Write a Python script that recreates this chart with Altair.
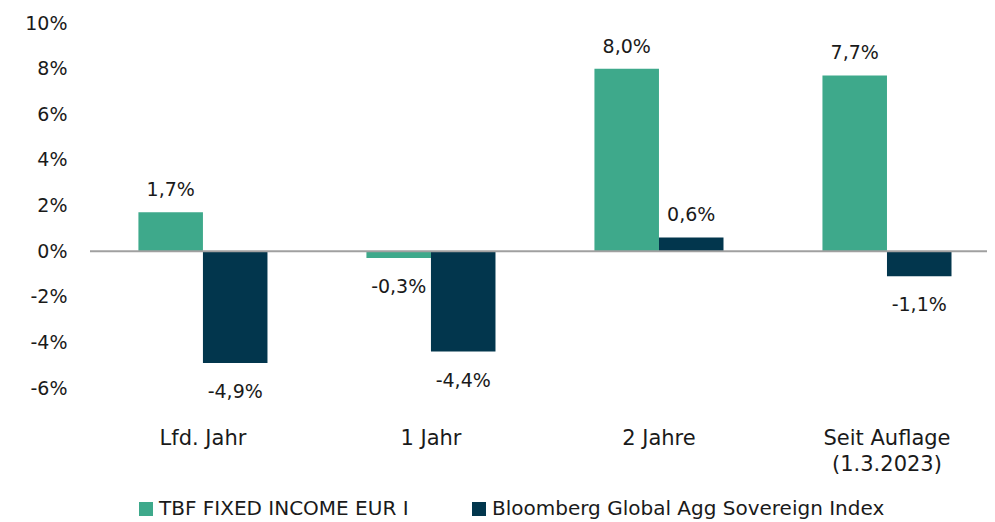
import altair as alt
import pandas as pd

categories = ["Lfd. Jahr", "1 Jahr", "2 Jahre", "Seit Auflage\n(1.3.2023)"]
series_names = ["TBF FIXED INCOME EUR I", "Bloomberg Global Agg Sovereign Index"]
fund_values = [1.7, -0.3, 8.0, 7.7]
index_values = [-4.9, -4.4, 0.6, -1.1]
series_colors = ["#3ea98b", "#02364d"]
y_ticks = [-6, -4, -2, 0, 2, 4, 6, 8, 10]

rows = []
for cat, f, b in zip(categories, fund_values, index_values):
    for name, v in ((series_names[0], f), (series_names[1], b)):
        rows.append({
            "cat": cat,
            "series": name,
            "value": v,
            "label": f"{v:.1f}".replace(".", ",") + "%",
        })
df = pd.DataFrame(rows)

FONT = "DejaVu Sans"
TXT = "#1a1a1a"

x_enc = alt.X(
    "cat:N",
    sort=categories,
    title=None,
    scale=alt.Scale(paddingInner=0.434, paddingOuter=0.184, align=0.577),
    axis=alt.Axis(
        labelExpr="split(datum.label, '\\n')",
        labelAngle=0,
        labelFont=FONT,
        labelFontSize=21,
        labelColor=TXT,
        labelPadding=39,
        labelLineHeight=26,
        labelBaseline="top",
        ticks=False,
        tickSize=0,
        domain=False,
        grid=False,
    ),
)
xoff = alt.XOffset("series:N", sort=series_names, scale=alt.Scale(paddingInner=0, paddingOuter=0))
y_scale = alt.Scale(domain=[-6, 10], nice=False, zero=False)
y_axis = alt.Axis(
    values=y_ticks,
    labelExpr="datum.value + '%'",
    labelFont=FONT,
    labelFontSize=19,
    labelColor=TXT,
    labelPadding=23,
    ticks=False,
    tickSize=0,
    domain=False,
    grid=False,
)
y_enc = alt.Y("value:Q", title=None, scale=y_scale, axis=y_axis)

base = alt.Chart(df)

bars = base.mark_bar().encode(
    x=x_enc,
    xOffset=xoff,
    y=y_enc,
    color=alt.Color(
        "series:N",
        sort=series_names,
        scale=alt.Scale(domain=series_names, range=series_colors),
        legend=alt.Legend(
            orient="none",
            legendX=46,
            legendY=476,
            direction="horizontal",
            title=None,
            symbolType="square",
            symbolSize=196,
            symbolStrokeWidth=0,
            symbolOpacity=1,
            labelFont=FONT,
            labelFontSize=20,
            labelColor=TXT,
            labelOffset=3,
            columnPadding=60,
            labelLimit=0,
        ),
    ),
)

pos_labels = base.transform_filter("datum.value >= 0").mark_text(
    font=FONT, fontSize=19, color=TXT, baseline="middle", dy=-22
).encode(x=x_enc, xOffset=xoff, y=y_enc, text="label:N")

neg_labels = base.transform_filter("datum.value < 0").mark_text(
    font=FONT, fontSize=19, color=TXT, baseline="middle", dy=29
).encode(x=x_enc, xOffset=xoff, y=y_enc, text="label:N")

zero_line = alt.Chart(pd.DataFrame({"z": [0]})).mark_rule(
    color="#a0a0a0", strokeWidth=2
).encode(
    y=alt.Y("z:Q", title=None, scale=y_scale, axis=y_axis),
    x=alt.value(0),
    x2=alt.value(905),
)

chart = (
    alt.layer(bars, zero_line, pos_labels, neg_labels)
    .properties(
        width=897,
        height=365,
        padding={"left": 82, "top": 15, "right": 0, "bottom": 132},
        autosize="none",
        background="white",
    )
    .configure_view(strokeWidth=0, stroke=None)
    .configure_axis(grid=False, domain=False)
)

chart.save("out.html", embed_options={"renderer": "svg", "actions": False})
